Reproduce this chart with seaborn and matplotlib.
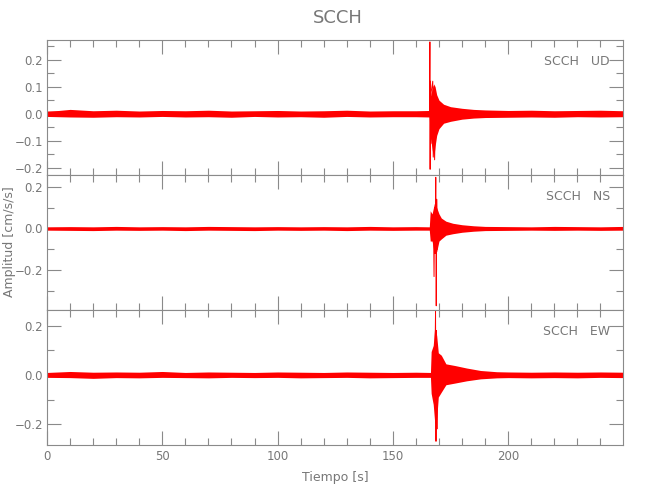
"""
Sismograma de tres componentes (UD, NS, EW) de la estacion SCCH.
"""

import matplotlib
matplotlib.use("Agg")
import matplotlib.pyplot as plt
from matplotlib.ticker import MultipleLocator
import seaborn as sns

# --- datos (envolventes y picos) ---
STATION = "SCCH"
COMPONENTS = ["UD", "NS", "EW"]

UD_T = [0, 5, 10, 20, 30, 40, 50, 60, 70, 80, 90, 100, 110, 120, 130, 140, 150, 160,
        165.8, 166.1, 166.5, 167.0, 167.7, 168.3, 169.0, 170.0, 172.0, 175.0, 180.0,
        185.0, 190.0, 200, 210, 220, 230, 240, 250]
UD_HI = [.010, .012, .016, .011, .013, .010, .012, .011, .013, .010, .011, .012, .010,
         .011, .013, .010, .011, .011, .012, .06, .07, .09, .11, .10, .07, .05, .035,
         .026, .02, .016, .014, .012, .013, .011, .012, .013, .011]
UD_LO = [-.010, -.011, -.012, -.013, -.011, -.012, -.010, -.012, -.011, -.013, -.010,
         -.012, -.011, -.013, -.010, -.012, -.011, -.011, -.012, -.08, -.10, -.13,
         -.165, -.12, -.08, -.055, -.035, -.028, -.02, -.016, -.014, -.013, -.012,
         -.013, -.011, -.012, -.011]
UD_PK_T = [165.9, 166.05, 166.15, 166.3, 166.45, 166.6, 167.3, 167.5, 167.9, 168.1, 168.6]
UD_PK_A = [0.0, 0.265, -0.205, 0.12, -0.11, 0.08, 0.12, -0.16, 0.10, -0.17, 0.06]

NS_T = [0, 10, 20, 30, 40, 50, 60, 70, 80, 90, 100, 110, 120, 130, 140, 150, 160,
        165.8, 166.2, 167.0, 168.0, 169.0, 170.0, 171.0, 173.0, 176.0, 180.0, 185.0,
        190.0, 200, 210, 220, 230, 240, 250]
NS_HI = [.008, .009, .008, .010, .008, .009, .008, .010, .009, .008, .009, .008, .009,
         .008, .010, .008, .009, .008, .085, .07, .12, .10, .07, .05, .035, .025, .018,
         .013, .010, .009, .008, .010, .009, .008, .010]
NS_LO = [-.008, -.009, -.010, -.008, -.009, -.008, -.010, -.008, -.009, -.010, -.008,
         -.009, -.008, -.010, -.008, -.009, -.008, -.008, -.06, -.06, -.12, -.11, -.06,
         -.05, -.032, -.025, -.018, -.013, -.010, -.009, -.008, -.009, -.008, -.009, -.008]
NS_PK_T = [167.6, 167.85, 168.1, 168.35, 168.6, 168.8, 169.0, 169.3]
NS_PK_A = [0.05, -0.23, 0.10, -0.12, 0.245, -0.37, 0.14, -0.10]

EW_T = [0, 10, 20, 30, 40, 50, 60, 70, 80, 90, 100, 110, 120, 130, 140, 150, 160,
        166.3, 166.6, 167.5, 168.2, 169.0, 169.7, 171.0, 173.0, 177.0, 182.0, 188.0,
        195.0, 200, 210, 220, 230, 240, 250]
EW_HI = [.010, .014, .011, .012, .011, .014, .010, .012, .011, .010, .012, .011, .010,
         .012, .011, .010, .011, .010, .095, .12, .20, .16, .09, .08, .045, .038, .028,
         .018, .013, .012, .011, .012, .011, .012, .011]
EW_LO = [-.010, -.011, -.014, -.011, -.012, -.010, -.011, -.012, -.010, -.011, -.010,
         -.012, -.011, -.010, -.012, -.011, -.010, -.010, -.075, -.12, -.20, -.18, -.09,
         -.07, -.04, -.033, -.024, -.016, -.012, -.011, -.012, -.011, -.012, -.010, -.011]
EW_PK_T = [168.2, 168.5, 168.7, 168.9, 169.1, 169.3]
EW_PK_A = [0.0, 0.26, -0.27, 0.18, -0.22, 0.05]

Y_LIMS = [(-0.226, 0.272), (-0.39, 0.256), (-0.285, 0.264)]
Y_MAJOR = [0.1, 0.2, 0.2]
Y_MINOR = [0.05, 0.1, 0.1]

GRIS = "#8a8a8a"
TEXTO = "#777777"

sns.set_style("ticks")
plt.rcParams["font.family"] = ["DejaVu Sans"]

fig = plt.figure(figsize=(6.5, 5), dpi=100)
gs = fig.add_gridspec(3, 1, left=47 / 650, right=623 / 650, top=1 - 40 / 500,
                      bottom=1 - 445 / 500, hspace=0)

series = [(UD_T, UD_HI, UD_LO, UD_PK_T, UD_PK_A),
          (NS_T, NS_HI, NS_LO, NS_PK_T, NS_PK_A),
          (EW_T, EW_HI, EW_LO, EW_PK_T, EW_PK_A)]

axes = []
for i, (t, hi, lo, pk_t, pk_a) in enumerate(series):
    ax = fig.add_subplot(gs[i])
    axes.append(ax)
    ax.fill_between(t, lo, hi, color="red", linewidth=0)
    sns.lineplot(x=pk_t, y=pk_a, ax=ax, color="red", linewidth=0.7, sort=False,
                 estimator=None)
    ax.set_xlim(0, 249.8)
    ax.set_ylim(*Y_LIMS[i])
    ax.xaxis.set_major_locator(MultipleLocator(50))
    ax.xaxis.set_minor_locator(MultipleLocator(10))
    ax.yaxis.set_major_locator(MultipleLocator(Y_MAJOR[i]))
    ax.yaxis.set_minor_locator(MultipleLocator(Y_MINOR[i]))
    ax.yaxis.set_major_formatter(plt.FuncFormatter(lambda v, p: f"{v:.1f}".replace("-", "\u2212")))
    ax.tick_params(which="both", direction="in", top=True, right=True, colors=GRIS,
                   labelcolor=TEXTO, labelsize=8.5, width=0.8)
    ax.tick_params(which="major", length=10)
    ax.tick_params(which="minor", length=5)
    ax.tick_params(axis="y", which="major", pad=3)
    for s in ax.spines.values():
        s.set_color(GRIS)
        s.set_linewidth(0.8)
    ax.text(0.977, 0.84, f"{STATION}   {COMPONENTS[i]}", transform=ax.transAxes,
            ha="right", va="center", color=TEXTO, fontsize=9)
    if i < 2:
        ax.tick_params(labelbottom=False)

axes[-1].set_xlabel("Tiempo [s]", color=TEXTO, fontsize=9, labelpad=6)
fig.text(10 / 650, 1 - 242 / 500, "Amplitud [cm/s/s]", rotation=90, ha="center",
         va="center", color=TEXTO, fontsize=9)
fig.text(0.52, 0.964, STATION, ha="center", va="center", color=TEXTO, fontsize=13)

fig.savefig("out.png", dpi=100)
